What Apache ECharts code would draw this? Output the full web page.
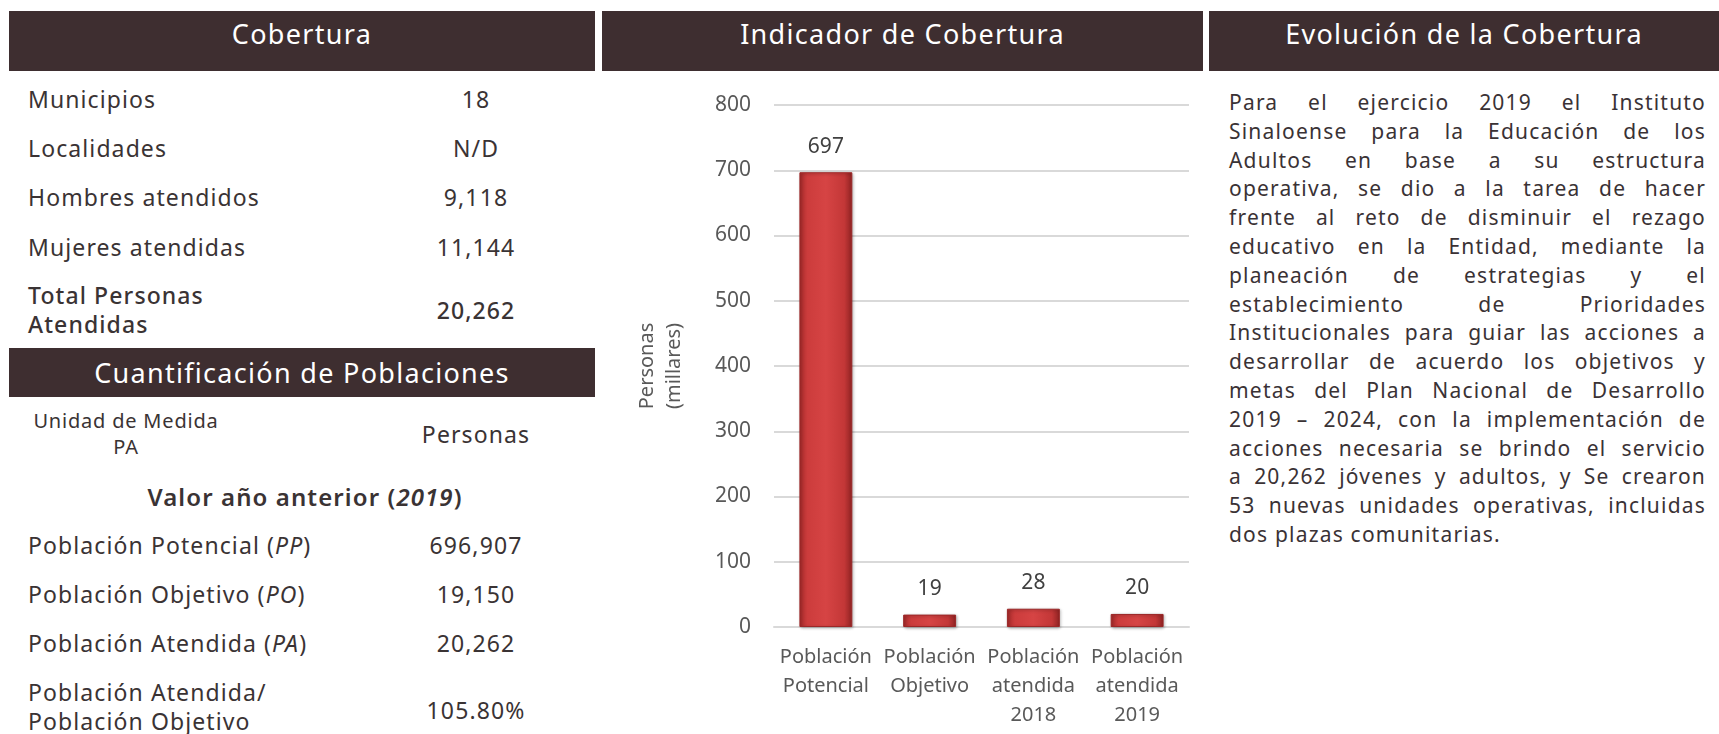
<!DOCTYPE html>
<html>
<head>
<meta charset="utf-8">
<script src="https://cdn.jsdelivr.net/npm/echarts@6/dist/echarts.min.js"></script>
<style>
  html, body { margin: 0; padding: 0; background: #fff; }
  body { width: 1719px; height: 734px; position: relative; overflow: hidden; font-family: "Noto Sans", sans-serif; color: #3a3334; }
  .hdr { position: absolute; background: #3e2e30; color: #fff; display: flex; justify-content: center; font-size: 27px; letter-spacing: 1.3px; line-height: 30px; box-sizing: border-box; }
  .t { position: absolute; white-space: nowrap; font-size: 23px; letter-spacing: 1.1px; line-height: 29px; transform: translateY(-50%); }
  .c { text-align: center; transform: translate(-50%, -50%); }
  #main { position: absolute; left: 602px; top: 75px; width: 601px; height: 659px; }
  #para { position: absolute; left: 1229px; top: 88px; width: 477px; font-size: 21px; letter-spacing: 1.2px; line-height: 28.8px; color: #3a3235; }
  #para div { text-align: justify; text-align-last: justify; white-space: nowrap; }
  #para div:last-child { text-align-last: left; }
</style>
</head>
<body>
<div class="hdr" style="left:9px;top:11px;width:586px;height:60px;padding-top:8px;">Cobertura</div>
<div class="hdr" style="left:602px;top:11px;width:601px;height:60px;padding-top:8px;">Indicador de Cobertura</div>
<div class="hdr" style="left:1209px;top:11px;width:510px;height:60px;padding-top:8px;">Evolución de la Cobertura</div>
<div class="hdr" style="left:9px;top:348px;width:586px;height:49px;padding-top:10px;">Cuantificación de Poblaciones</div>
<div id="left"></div>
<div id="main"></div>
<div id="para"></div>
<script>
// table: Cobertura
const coberturaLabels = ["Municipios", "Localidades", "Hombres atendidos", "Mujeres atendidas", "Total Personas<br>Atendidas"];
const coberturaValues = ["18", "N/D", "9,118", "11,144", "20,262"];
const coberturaRowsY = [99, 148, 197, 247, 310];

// table: Cuantificación de Poblaciones
const poblacionLabels = ["Población Potencial (<i>PP</i>)", "Población Objetivo (<i>PO</i>)", "Población Atendida (<i>PA</i>)", "Población Atendida/<br>Población Objetivo"];
const poblacionValues = ["696,907", "19,150", "20,262", "105.80%"];
const poblacionRowsY = [545, 594, 643, 707];

// chart data (miles de personas)
const categories = [["Población", "Potencial"], ["Población", "Objetivo"], ["Población", "atendida", "2018"], ["Población", "atendida", "2019"]];
const values = [697, 19, 28, 20];
const yTicks = [0, 100, 200, 300, 400, 500, 600, 700, 800];

// paragraph
const paraLines = [
  "Para el ejercicio 2019 el Instituto",
  "Sinaloense para la Educación de los",
  "Adultos en base a su estructura",
  "operativa, se dio a la tarea de hacer",
  "frente al reto de disminuir el rezago",
  "educativo en la Entidad, mediante la",
  "planeación de estrategias y el",
  "establecimiento de Prioridades",
  "Institucionales para guiar las acciones a",
  "desarrollar de acuerdo los objetivos y",
  "metas del Plan Nacional de Desarrollo",
  "2019 – 2024, con la implementación de",
  "acciones necesaria se brindo el servicio",
  "a 20,262 jóvenes y adultos, y Se crearon",
  "53 nuevas unidades operativas, incluidas",
  "dos plazas comunitarias."
];

const left = document.getElementById("left");
const addText = (html, x, y, cls, extra) => {
  const d = document.createElement("div");
  d.className = "t" + (cls ? " " + cls : "");
  d.style.left = x + "px";
  d.style.top = y + "px";
  if (extra) d.style.cssText += extra;
  d.innerHTML = html;
  left.appendChild(d);
};

coberturaLabels.forEach((lab, i) => {
  const last = i === coberturaLabels.length - 1;
  addText(lab, 28, coberturaRowsY[i], "", last ? "font-weight:500;" : "");
  addText(coberturaValues[i], 476, coberturaRowsY[i], "c", last ? "font-weight:500;" : "");
});

addText("Unidad de Medida<br>PA", 126, 434, "c", "font-size:20px;line-height:26px;letter-spacing:0.8px;");
addText("Personas", 476, 434, "c");
addText("Valor año anterior (<i>2019</i>)", 305, 496, "c", "font-weight:600;font-size:24px;");

poblacionLabels.forEach((lab, i) => {
  addText(lab, 28, poblacionRowsY[i], "");
  addText(poblacionValues[i], 476, i === 3 ? 710 : poblacionRowsY[i], "c");
});

const para = document.getElementById("para");
paraLines.forEach((l) => {
  const d = document.createElement("div");
  d.textContent = l;
  para.appendChild(d);
});

const chartContainer = echarts.init(document.getElementById("main"));

const option = {
  animation: false,
  textStyle: { fontFamily: "Noto Sans" },
  grid: { left: 172, right: 14, top: 30, bottom: 107 },
  xAxis: {
    type: "category",
    data: categories.map((c) => c.join("\n")),
    axisLine: { lineStyle: { color: "#d9d9d9", width: 2 } },
    axisTick: { show: false },
    axisLabel: { color: "#595959", fontSize: 20, lineHeight: 29, margin: 16, interval: 0 },
  },
  yAxis: {
    type: "value",
    min: yTicks[0],
    max: yTicks[yTicks.length - 1],
    interval: 100,
    name: "Personas\n(millares)",
    nameLocation: "middle",
    nameRotate: 90,
    nameGap: 86,
    nameTextStyle: { color: "#595959", fontSize: 20, lineHeight: 27 },
    axisLine: { show: false },
    axisTick: { show: false },
    axisLabel: { color: "#595959", fontSize: 21, margin: 23 },
    splitLine: { lineStyle: { color: "#d9d9d9", width: 2 } },
  },
  series: [
    {
      type: "bar",
      data: values,
      barWidth: "51%",
      itemStyle: {
        color: {
          type: "linear", x: 0, y: 0, x2: 1, y2: 0,
          colorStops: [
            { offset: 0, color: "#a52a2a" },
            { offset: 0.15, color: "#cc3c3c" },
            { offset: 0.5, color: "#d64444" },
            { offset: 0.85, color: "#c33737" },
            { offset: 1, color: "#8e2222" },
          ],
        },
        borderColor: "#9c2727",
        borderWidth: 1,
        shadowColor: "rgba(0,0,0,0.3)",
        shadowBlur: 3,
        shadowOffsetX: 1,
        shadowOffsetY: 1,
      },
      label: { show: true, position: "top", distance: 15, color: "#404040", fontSize: 21 },
    },
  ],
};

chartContainer.setOption(option);
</script>
</body>
</html>
